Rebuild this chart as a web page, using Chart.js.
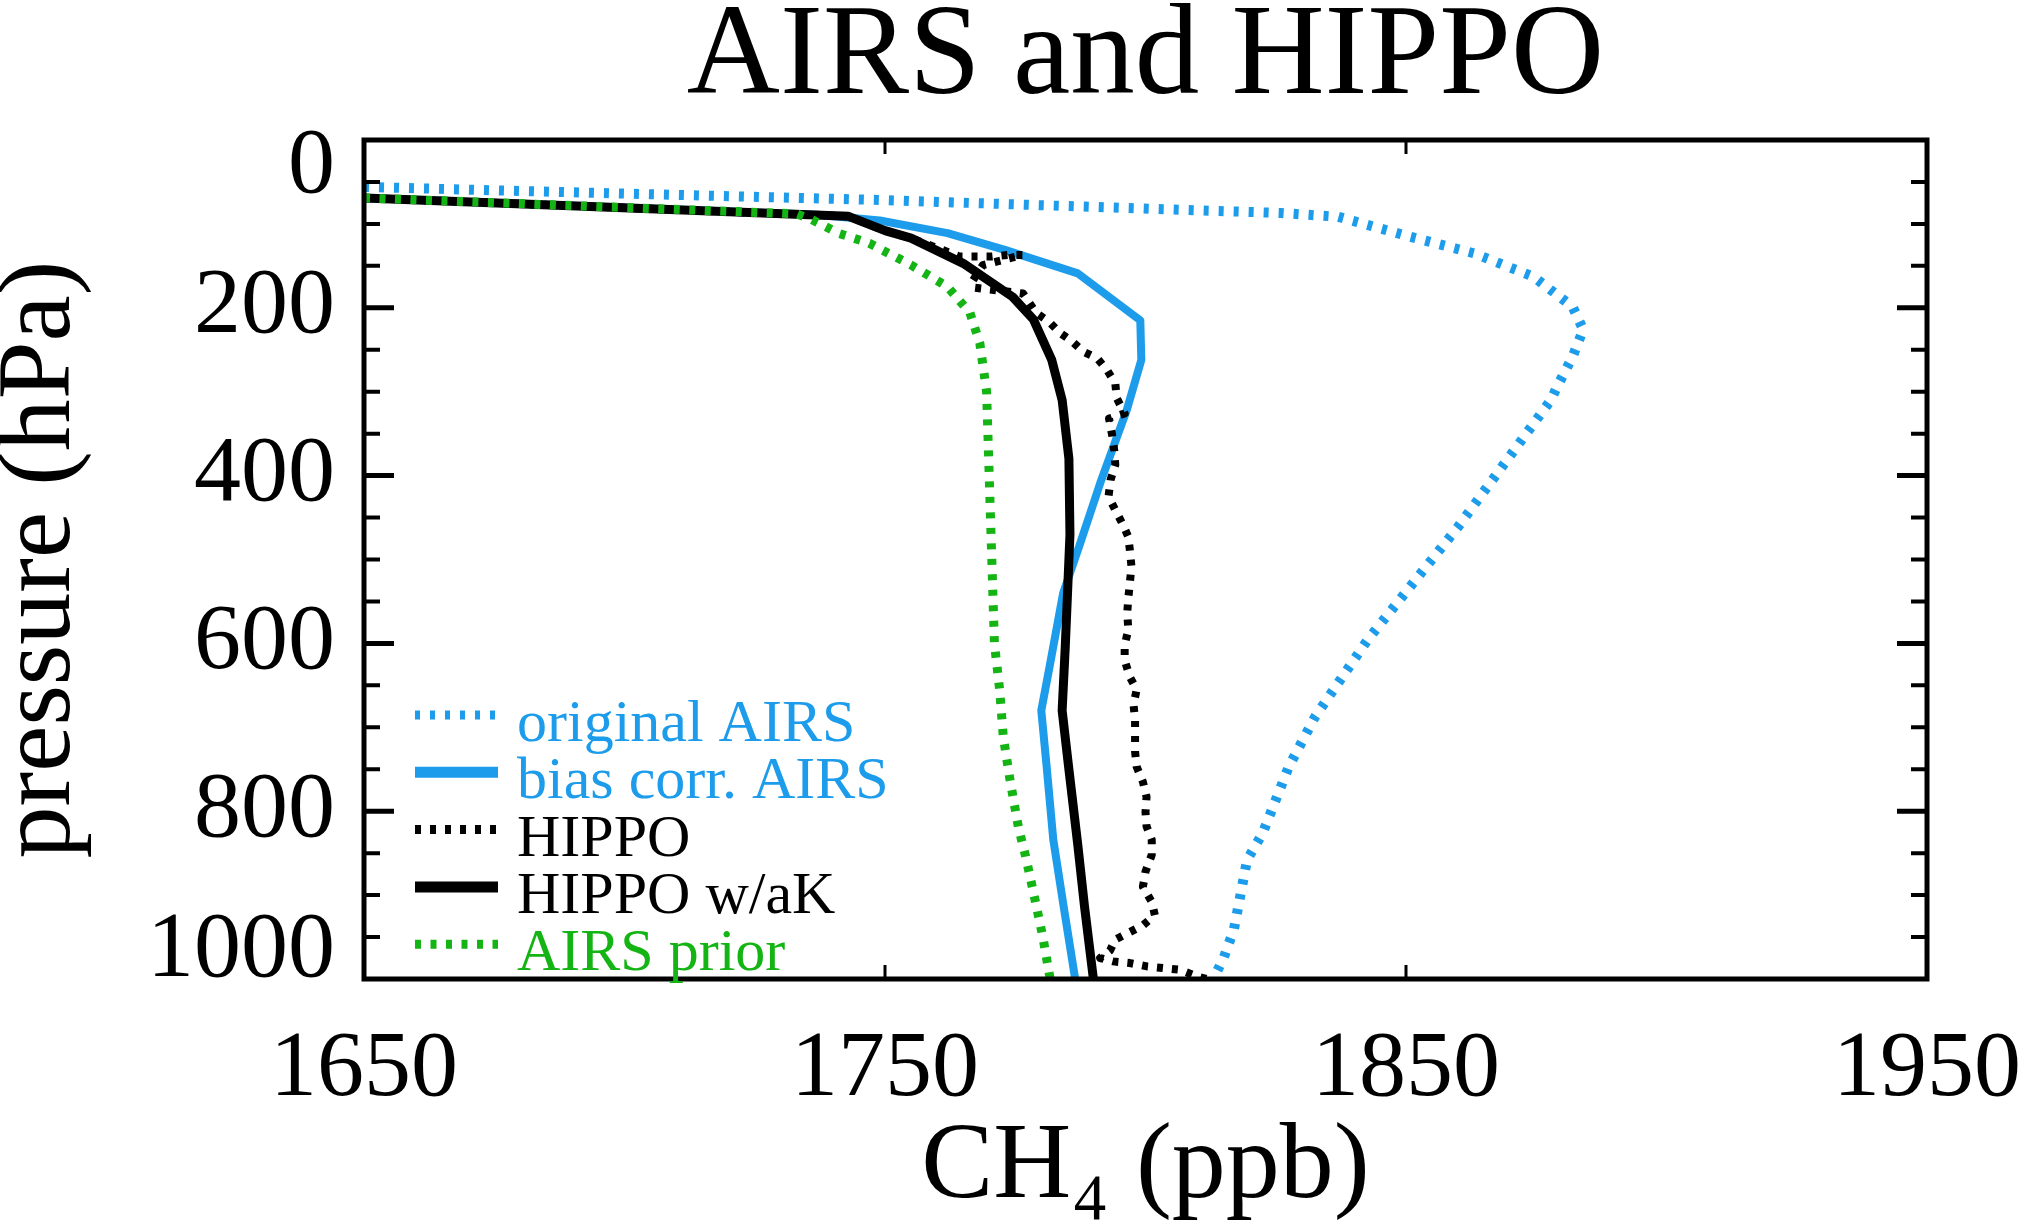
<!DOCTYPE html>
<html>
<head>
<meta charset="utf-8">
<title>AIRS and HIPPO</title>
<script src="https://cdn.jsdelivr.net/npm/chart.js@4.4.1/dist/chart.umd.min.js"></script>
<style>
  html, body { margin: 0; padding: 0; background: #fff; }
  #wrap { width: 2027px; height: 1231px; }
</style>
</head>
<body>
<div id="wrap"><canvas id="chart" width="2027" height="1231"></canvas></div>
<script>
// Profiles: CH4 (ppb) against pressure (hPa)
const origAirsPpb = [1650, 1749, 1826, 1837, 1850, 1863, 1874.5, 1882, 1884, 1882, 1879, 1877.8, 1860, 1842.6, 1832.5, 1827.5, 1822.5, 1819.5, 1817, 1815, 1813];
const origAirsHpa = [56, 71.5, 87, 91.5, 114, 135, 163, 199, 226, 258, 294, 310, 461, 596, 688, 747, 826, 858, 940, 975, 1000];

const biasAirsPpb = [1650, 1737, 1749, 1762, 1773, 1787, 1799, 1799.2, 1796.4, 1791.3, 1787.5, 1784.2, 1781.7, 1780, 1781, 1782.3, 1784.3, 1786.5];
const biasAirsHpa = [69, 89, 96, 111, 131, 159, 215, 262, 322, 409, 480, 540, 624, 680, 745, 834, 914, 1000];

const hippoPpb = [1650, 1743, 1750, 1755, 1764.4, 1767.6, 1770.5, 1773.6, 1776.5, 1768.8, 1766.7, 1767.2, 1776.5, 1779, 1781.7, 1783.6, 1785.9, 1788, 1790.7, 1792.6, 1794.2, 1794.5, 1796, 1793, 1793.6, 1794, 1794.2, 1793.3, 1792.9, 1794.2, 1795.7, 1796.7, 1797, 1797.3, 1797, 1796.7, 1796.5, 1796.7, 1796, 1796, 1797, 1798.3, 1797.7, 1798, 1798, 1798, 1798.3, 1799.5, 1800.2, 1800, 1800.2, 1801.2, 1801.2, 1800, 1799.5, 1801.2, 1801.8, 1799.5, 1797, 1794.2, 1793.2, 1791.3, 1793.8, 1797, 1800.3, 1803.4, 1806.6, 1809.9, 1811.8];
const hippoHpa = [69, 91, 108, 117, 139, 139, 139, 137, 137, 149, 169, 176, 183, 206, 218, 230, 240, 252, 260, 274, 290, 308, 326, 332, 352, 370, 387, 405, 425, 441, 459, 473, 489, 508, 528, 546, 563, 584, 602, 620, 640, 655, 673, 691, 711, 729, 747, 765, 783, 801, 818, 834, 852, 872, 890, 908, 924, 936, 944, 953, 966, 975, 979, 981, 985, 987, 989, 997, 1000];

const hippoAkPpb = [1650, 1743, 1750, 1755, 1765, 1774.5, 1778.5, 1782, 1784, 1785.3, 1785.5, 1785, 1784.6, 1784, 1785.2, 1787, 1788.3, 1790];
const hippoAkHpa = [69, 91, 108, 117, 147, 187, 214, 262, 310, 380, 470, 545, 604, 680, 745, 840, 914, 1000];

const priorPpb = [1650, 1733, 1736, 1741, 1747, 1749.4, 1755, 1762, 1766.3, 1768.2, 1769.5, 1770, 1770.5, 1771, 1772, 1772.7, 1774, 1775.6, 1777, 1778.4, 1780.3, 1781.7];
const priorHpa = [69, 88, 95, 111, 123, 131, 149, 175, 206, 242, 300, 400, 500, 600, 655, 711, 763, 819, 854, 894, 950, 1000];

const seriesNames = ['original AIRS', 'bias corr. AIRS', 'HIPPO', 'HIPPO w/aK', 'AIRS prior'];
const xTickValues = [1650, 1750, 1850, 1950];
const yTickValues = [0, 200, 400, 600, 800, 1000];

const BLUE = '#1c9ceb';
const GREEN = '#14b414';
const FONT = '"Liberation Serif", "Times New Roman", serif';

function toPoints(xs, ys) {
    return xs.map((v, i) => ({ x: v, y: ys[i] }));
}

// Inward tick marks, frame, title and in-plot legend
const decorPlugin = {
    id: 'decor',
    afterDatasetsDraw(chart) {
        const { ctx, chartArea: a, scales: { x, y } } = chart;
        ctx.save();
        ctx.strokeStyle = '#000';
        ctx.setLineDash([]);
        ctx.lineCap = 'butt';

        y.ticks.forEach(t => {
            if (t.value <= 0 || t.value >= 1000) return;
            const py = y.getPixelForValue(t.value);
            const major = t.value % 200 === 0;
            const len = major ? 30 : 16;
            ctx.lineWidth = major ? 5 : 4;
            ctx.beginPath();
            ctx.moveTo(a.left, py); ctx.lineTo(a.left + len, py);
            ctx.moveTo(a.right, py); ctx.lineTo(a.right - len, py);
            ctx.stroke();
        });
        x.ticks.forEach(t => {
            if (t.value <= 1650 || t.value >= 1950) return;
            const px = x.getPixelForValue(t.value);
            ctx.lineWidth = 3;
            ctx.beginPath();
            ctx.moveTo(px, a.bottom); ctx.lineTo(px, a.bottom - 14);
            ctx.moveTo(px, a.top); ctx.lineTo(px, a.top + 14);
            ctx.stroke();
        });

        ctx.lineWidth = 5;
        ctx.strokeRect(a.left, a.top, a.right - a.left, a.bottom - a.top);
        ctx.restore();
    },
    afterDraw(chart) {
        const { ctx, chartArea: a } = chart;
        ctx.save();

        // title centred over the plot box
        ctx.fillStyle = '#000';
        ctx.font = '129px ' + FONT;
        ctx.textAlign = 'center';
        ctx.textBaseline = 'alphabetic';
        ctx.fillText('AIRS and HIPPO', (a.left + a.right) / 2, 93);

        // legend in the lower left corner
        const rowY0 = 715;
        const rowStep = 57.3;
        ctx.font = '60px ' + FONT;
        ctx.textAlign = 'left';
        chart.data.datasets.forEach((ds, i) => {
            const yy = rowY0 + i * rowStep;
            ctx.strokeStyle = ds.borderColor;
            ctx.lineWidth = ds.borderDash ? 9 : 11;
            ctx.setLineDash(ds.borderDash || []);
            ctx.lineCap = 'butt';
            ctx.beginPath();
            ctx.moveTo(415, yy);
            ctx.lineTo(498, yy);
            ctx.stroke();
            ctx.fillStyle = ds.borderColor;
            ctx.fillText(ds.label, 517, yy + 26);
        });
        ctx.restore();
    }
};

const ctx = document.getElementById('chart').getContext('2d');
new Chart(ctx, {
    type: 'line',
    data: {
        datasets: [
            { label: seriesNames[0], data: toPoints(origAirsPpb, origAirsHpa), borderColor: BLUE, borderWidth: 10, borderDash: [5, 10], order: 5 },
            { label: seriesNames[1], data: toPoints(biasAirsPpb, biasAirsHpa), borderColor: BLUE, borderWidth: 8, order: 4 },
            { label: seriesNames[2], data: toPoints(hippoPpb, hippoHpa), borderColor: '#000', borderWidth: 8, borderDash: [6, 9], order: 3 },
            { label: seriesNames[3], data: toPoints(hippoAkPpb, hippoAkHpa), borderColor: '#000', borderWidth: 9, order: 2 },
            { label: seriesNames[4], data: toPoints(priorPpb, priorHpa), borderColor: GREEN, borderWidth: 9, borderDash: [6, 9.5], order: 1 }
        ].map(ds => Object.assign({ pointRadius: 0, fill: false, tension: 0, borderCapStyle: 'butt', borderJoinStyle: 'round' }, ds))
    },
    options: {
        responsive: false,
        animation: false,
        devicePixelRatio: 1,
        layout: { padding: { top: 140, right: 100, left: 0, bottom: 0 } },
        plugins: {
            legend: { display: false },
            title: { display: false },
            tooltip: { enabled: false }
        },
        scales: {
            x: {
                type: 'linear',
                min: 1650,
                max: 1950,
                grid: { display: false, drawTicks: false },
                border: { display: false },
                ticks: {
                    stepSize: 100,
                    autoSkip: false,
                    maxRotation: 0,
                    padding: 35,
                    color: '#000',
                    font: { family: FONT, size: 94, lineHeight: 1.2 },
                    callback: v => xTickValues.includes(v) ? String(v) : ''
                },
                title: {
                    display: true,
                    text: 'CH\u2084 (ppb)',
                    color: '#000',
                    font: { family: FONT, size: 108, lineHeight: 1.0 },
                    padding: { top: 0, bottom: 8 }
                },
                afterFit: s => { s.height = 252; s.paddingLeft = 0; s.paddingRight = 0; }
            },
            y: {
                type: 'linear',
                reverse: true,
                min: 0,
                max: 1000,
                grid: { display: false, drawTicks: false },
                border: { display: false },
                ticks: {
                    stepSize: 50,
                    autoSkip: false,
                    padding: 29,
                    color: '#000',
                    font: { family: FONT, size: 94, lineHeight: 0.585 },
                    callback: v => {
                        if (!yTickValues.includes(v)) return '';
                        if (v === 0) return ['', '0'];
                        if (v === 1000) return ['1000', ''];
                        return String(v);
                    }
                },
                title: {
                    display: true,
                    text: 'pressure (hPa)',
                    color: '#000',
                    font: { family: FONT, size: 104, lineHeight: 0.8 },
                    padding: 0
                },
                afterFit: s => { s.width = 364; }
            }
        }
    },
    plugins: [decorPlugin]
});
</script>
</body>
</html>
